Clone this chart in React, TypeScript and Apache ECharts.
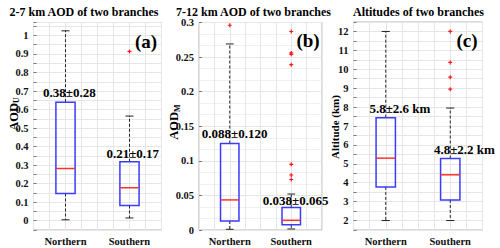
import React, { useEffect, useRef } from "react";
import * as echarts from "echarts";

// ---------- data ----------
const categories = ["Northern", "Southern"];
const categoryX = [1, 2];

// [lower whisker, Q1, median, Q3, upper whisker]
const aodUBoxes = [
  [0.005, 0.147, 0.282, 0.64, 1.025],
  [0.015, 0.082, 0.178, 0.318, 0.565],
];
const aodUOutliers = [[], [0.914]];
const aodULabels = ["0.38±0.28", "0.21±0.17"];
const aodULabelX = [1.06, 2.05];
const aodULabelY = [0.694, 0.364];

const aodMBoxes = [
  [0.001, 0.013, 0.0435, 0.125, 0.269],
  [0.0015, 0.0075, 0.014, 0.0325, 0.052],
];
const aodMOutliers = [[0.296], [0.287, 0.256, 0.254, 0.239, 0.095, 0.0795, 0.073]];
const aodMLabels = ["0.088±0.120", "0.038±0.065"];
const aodMLabelX = [1.08, 2.07];
const aodMLabelY = [0.14, 0.042];

const altBoxes = [
  [2.0, 3.78, 5.3, 7.44, 12.0],
  [2.0, 3.09, 4.42, 5.28, 7.95],
];
const altOutliers = [[], [12.0, 10.36, 9.58, 8.95]];
const altLabels = ["5.8±2.6 km", "4.8±2.2 km"];
const altLabelX = [1.22, 2.22];
const altLabelY = [7.92, 5.78];

const yTicksA = { min: -0.05, max: 1.07, interval: 0.05 };
const yTicksB = { min: 0, max: 0.3, interval: 0.05 };
const yTicksC = { min: 1.5, max: 12.5, interval: 0.5 };

// ---------- style ----------
const FONT = "Liberation Serif";
const GRID_LINE = "#e6e6e6";
const FRAME = "#b5b5b5";

function boxRender(params: any, api: any) {
  const x = api.value(0);
  const lo = api.coord([x, api.value(1)]);
  const q1 = api.coord([x, api.value(2)]);
  const med = api.coord([x, api.value(3)]);
  const q3 = api.coord([x, api.value(4)]);
  const hi = api.coord([x, api.value(5)]);
  const bw = api.size([0.3, 0])[0];
  const cw = bw * 0.42;
  const cx = lo[0];
  const dash = { stroke: "#222", lineWidth: 1, lineDash: [3, 2] };
  const solid = { stroke: "#222", lineWidth: 1 };
  return {
    type: "group",
    children: [
      { type: "line", shape: { x1: cx, y1: q3[1], x2: cx, y2: hi[1] }, style: dash },
      { type: "line", shape: { x1: cx, y1: q1[1], x2: cx, y2: lo[1] }, style: dash },
      { type: "line", shape: { x1: cx - cw / 2, y1: hi[1], x2: cx + cw / 2, y2: hi[1] }, style: solid },
      { type: "line", shape: { x1: cx - cw / 2, y1: lo[1], x2: cx + cw / 2, y2: lo[1] }, style: solid },
      {
        type: "rect",
        shape: { x: cx - bw / 2, y: q3[1], width: bw, height: q1[1] - q3[1] },
        style: { fill: "none", stroke: "#3b3bff", lineWidth: 1.5 },
      },
      {
        type: "line",
        shape: { x1: cx - bw / 2, y1: med[1], x2: cx + bw / 2, y2: med[1] },
        style: { stroke: "#ff3030", lineWidth: 1.5 },
      },
    ],
  };
}

function makeXAxis(gridIndex: number) {
  return {
    type: "value",
    gridIndex,
    min: 0.5,
    max: 2.5,
    interval: 0.25,
    axisLine: { show: false },
    axisTick: { show: false },
    splitLine: { show: true, lineStyle: { color: GRID_LINE, width: 1 } },
    axisLabel: {
      margin: 6,
      fontFamily: FONT,
      fontWeight: "bold",
      fontSize: 10.5,
      color: "#111",
      formatter: (v: number) => {
        const i = categoryX.indexOf(Math.round(v * 100) / 100);
        return i >= 0 ? categories[i] : "";
      },
    },
  };
}

function makeYAxis(gridIndex: number, t: any, fmt: (v: number) => string, minor: boolean) {
  return {
    type: "value",
    gridIndex,
    min: t.min,
    max: t.max,
    interval: t.interval,
    axisLine: { show: false },
    axisTick: { show: true, inside: true, length: 3, lineStyle: { color: "#777" } },
    splitLine: { show: true, lineStyle: { color: GRID_LINE, width: 1 } },
    minorTick: { show: false, splitNumber: 3 },
    minorSplitLine: { show: minor, lineStyle: { color: "#f1f1f1", width: 1 } },
    axisLabel: {
      margin: 5,
      fontFamily: FONT,
      fontWeight: "bold",
      fontSize: 10.5,
      color: "#111",
      showMinLabel: true,
      showMaxLabel: true,
      hideOverlap: false,
      formatter: fmt,
    },
  };
}

function fmtTenths(v: number) {
  const r = Math.round(v * 10) / 10;
  if (v < -1e-9 || Math.abs(v - r) > 1e-6) return "";
  return String(r);
}
function fmtHundredths(v: number) {
  return String(Math.round(v * 100) / 100);
}
function fmtIntegers(v: number) {
  const r = Math.round(v);
  if (Math.abs(v - r) > 1e-6) return "";
  return String(r);
}

function panelSeries(
  gi: number,
  boxes: number[][],
  outliers: number[][],
  labels: string[],
  lx: number[],
  ly: number[]
) {
  const boxData = boxes.map((b, i) => [categoryX[i], ...b]);
  const outData: number[][] = [];
  outliers.forEach((arr, i) => arr.forEach((v) => outData.push([categoryX[i], v])));
  const labelData = labels.map((t, i) => ({ value: [lx[i], ly[i]], name: t }));
  return [
    {
      type: "custom",
      xAxisIndex: gi,
      yAxisIndex: gi,
      renderItem: boxRender,
      encode: { x: 0, y: [1, 2, 3, 4, 5] },
      data: boxData,
      z: 3,
    },
    {
      type: "scatter",
      xAxisIndex: gi,
      yAxisIndex: gi,
      symbol: "path://M5,0 L5,10 M0,5 L10,5",
      symbolSize: 4,
      itemStyle: { color: "transparent", borderColor: "#ff1a1a", borderWidth: 1.2, opacity: 1 },
      data: outData,
      z: 4,
    },
    {
      type: "scatter",
      xAxisIndex: gi,
      yAxisIndex: gi,
      symbolSize: 0,
      itemStyle: { color: "#000", opacity: 1 },
      data: labelData,
      z: 5,
      label: {
        show: true,
        position: "inside",
        formatter: (p: any) => p.name,
        fontFamily: FONT,
        fontWeight: "bold",
        fontSize: 13,
        color: "#000",
        opacity: 1,
        textBorderWidth: 0,
        textBorderColor: "transparent",
      },
    },
  ];
}

function yTitle(x: number, y: number, main: string, sub: string, size: number) {
  return {
    type: "text",
    x,
    y,
    z: 100,
    rotation: Math.PI / 2,
    style: {
      text: sub ? `{a|${main}}{s|${sub}}` : `{a|${main}}`,
      align: "center",
      verticalAlign: "middle",
      rich: {
        a: { fontFamily: FONT, fontWeight: "bold", fontSize: size, fill: "#000", lineHeight: 14 },
        s: { fontFamily: FONT, fontWeight: "bold", fontSize: 8, fill: "#000", verticalAlign: "bottom", lineHeight: 14 },
      },
    },
  };
}

function plainText(x: number, y: number, text: string, size: number) {
  return {
    type: "text",
    x,
    y,
    z: 100,
    style: {
      text,
      align: "center",
      verticalAlign: "middle",
      fontFamily: FONT,
      fontWeight: "bold",
      fontSize: size,
      fill: "#000",
    },
  };
}

export default function App() {
  const ref = useRef<HTMLDivElement>(null);
  useEffect(() => {
    if (!ref.current) return;
    const chart = echarts.init(ref.current, undefined, { renderer: "svg" });
    const gridBase = { show: true, borderColor: FRAME, borderWidth: 1, containLabel: false };
    chart.setOption({
      animation: false,
      backgroundColor: "#fff",
      textStyle: { fontFamily: FONT },
      grid: [
        { ...gridBase, left: 33.5, top: 22.5, width: 128, height: 207.5 },
        { ...gridBase, left: 199, top: 22.5, width: 123, height: 207.5 },
        { ...gridBase, left: 353.5, top: 22, width: 129, height: 208 },
      ],
      xAxis: [makeXAxis(0), makeXAxis(1), makeXAxis(2)],
      yAxis: [
        makeYAxis(0, yTicksA, fmtTenths, false),
        makeYAxis(1, yTicksB, fmtHundredths, true),
        makeYAxis(2, yTicksC, fmtIntegers, false),
      ],
      series: [
        ...panelSeries(0, aodUBoxes, aodUOutliers, aodULabels, aodULabelX, aodULabelY),
        ...panelSeries(1, aodMBoxes, aodMOutliers, aodMLabels, aodMLabelX, aodMLabelY),
        ...panelSeries(2, altBoxes, altOutliers, altLabels, altLabelX, altLabelY),
      ],
      graphic: [
        plainText(84, 11.5, "2-7 km AOD of two branches", 12),
        plainText(253.5, 11.5, "7-12 km AOD of two branches", 12),
        plainText(418.5, 11.5, "Altitudes of two branches", 12),
        plainText(146, 41, "(a)", 19),
        plainText(308, 40.5, "(b)", 19),
        plainText(467, 40.5, "(c)", 19),
        yTitle(13.5, 114, "AOD", "U", 12.5),
        yTitle(174, 122, "AOD", "M", 12.5),
        yTitle(335, 127, "Altitude (km)", "", 11),
      ],
    });
    return () => chart.dispose();
  }, []);
  return (
    <div
      ref={ref}
      style={{ position: "absolute", left: 0, top: 0, width: 500, height: 248, background: "#fff" }}
    />
  );
}
